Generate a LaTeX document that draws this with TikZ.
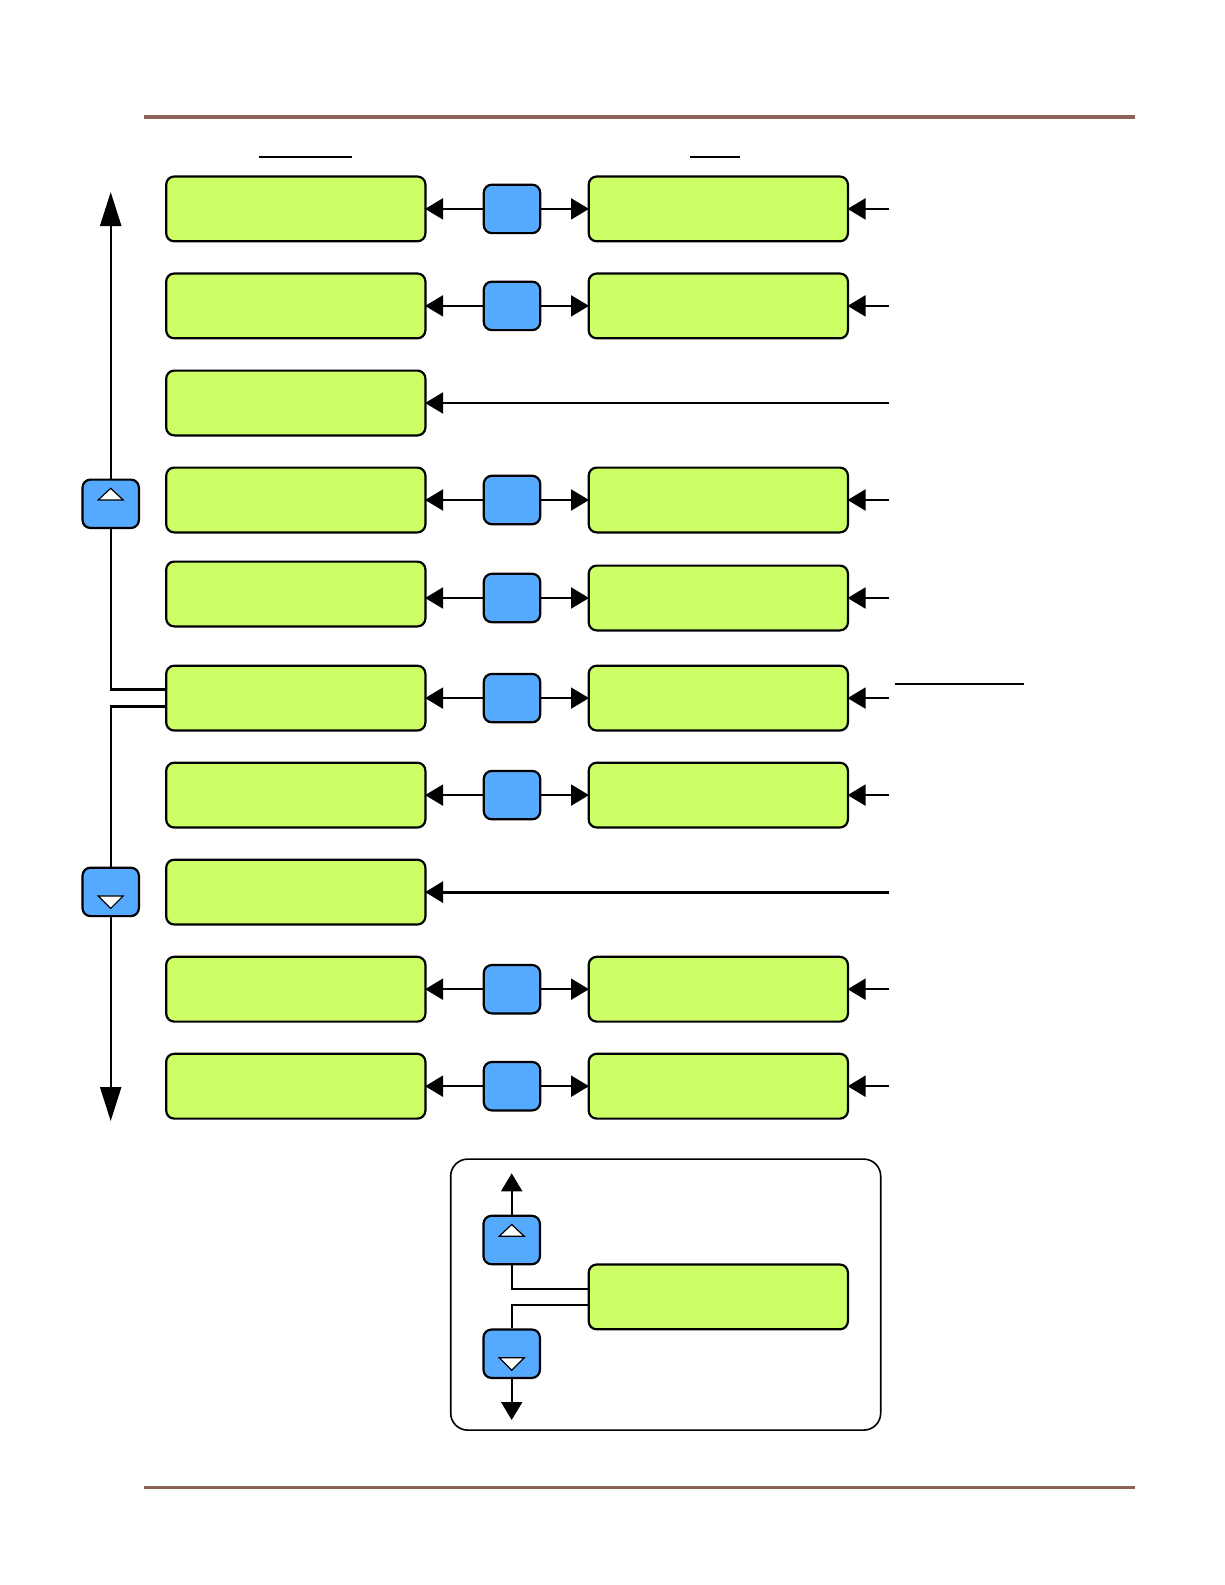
\documentclass[tikz,border=0pt]{standalone}
\usetikzlibrary{arrows.meta}
\definecolor{displaygruen}{HTML}{CCFF66}
\definecolor{tastenblau}{HTML}{55AAFF}
\definecolor{linienbraun}{HTML}{8B6457}
\tikzset{
  display/.style={draw,fill=displaygruen,line width=1.1pt,rounded corners=4pt,minimum width=129.6pt,minimum height=32.4pt,inner sep=0pt},
  taste/.style={draw,fill=tastenblau,line width=1.1pt,rounded corners=4pt,minimum width=28.2pt,minimum height=24.2pt,inner sep=0pt},
  dreieck/.style={draw,fill=white,line width=0.6pt,line join=miter},
  linie/.style={draw=linienbraun,line width=1.6pt},
  pfeil/.style={line width=1.1pt,shorten >=-0.7pt,-{Triangle[length=9pt,width=10.5pt]}},
  grosspfeil/.style={line width=1.1pt,-{Triangle[length=17pt,width=10.5pt]}},
  rahmen/.style={draw,line width=0.8pt,rounded corners=8.5pt,minimum width=215pt,minimum height=135.5pt,inner sep=0pt}
}
\begin{document}
\begin{tikzpicture}[x=0.5pt,y=-0.5pt]
\useasboundingbox (0,0) rectangle (1225,1585);
% name, y left box, y right box
\def\reihe#1#2#3{
  \node[display] at (295.8,#2) (l#1) {};
  \node[taste] at (512,#3) (t#1) {};
  \node[display] at (718.3,#3) (r#1) {};
  \coordinate (e#1) at (889.4,#3);
  \draw[pfeil] (t#1) -- (l#1.east |- t#1);
  \draw[pfeil] (t#1) -- (r#1);
  \draw[pfeil] (e#1) -- (r#1);
}
\def\hochtaste#1#2#3{
  \node[taste] at (#2,#3) (#1) {};
  \draw[dreieck,shift={(#2,#3)}] (-12.5,-3.8) -- (12.5,-3.8) -- (0,-15.5) -- cycle;
}
\def\runtertaste#1#2#3{
  \node[taste] at (#2,#3) (#1) {};
  \draw[dreieck,shift={(#2,#3)}] (-12.5,4) -- (12.5,4) -- (0,16.5) -- cycle;
}

% lines top and bottom
\draw[linie] (143.5,116.9) -- (1135,116.9);
\draw[linie] (143.5,1487.4) -- (1135,1487.4);

% underlines
\draw[line width=0.9pt] (258.7,156.7) -- (351.7,156.7);
\draw[line width=0.9pt] (690,156.7) -- (740,156.7);
\draw[line width=0.9pt] (894.5,684.2) -- (1024,684.2);

\reihe{1}{208.9}{208.9}
\reihe{2}{305.9}{305.9}
\reihe{4}{500}{500}
\reihe{5}{594}{598}
\reihe{6}{698.1}{698.1}
\reihe{7}{795.1}{795.1}
\reihe{9}{989.2}{989.2}
\reihe{10}{1086.2}{1086.2}

% rows without middle key
\node[display] at (295.8,403) (l3) {};
\coordinate (e3) at (889.4,403);
\draw[pfeil] (e3) -- (l3);
\node[display] at (295.8,892.1) (l8) {};
\coordinate (e8) at (889.4,892.1);
\draw[pfeil,line width=1.6pt] (e8) -- (l8);

% keys on the left
\hochtaste{hoch}{110.7}{503.8}
\runtertaste{runter}{110.7}{891.9}
\coordinate (oben) at (110.7,192);
\coordinate (unten) at (110.7,1121);
\coordinate (lh) at (166,689.5);
\coordinate (lr) at (166,706.5);
\draw[grosspfeil] (hoch) -- (oben);
\draw[grosspfeil] (runter) -- (unten);
\draw[line width=1.1pt] (hoch) |- (lh);
\draw[line width=1.1pt] (runter) |- (lr);

% legend
\node[rahmen] at (665.7,1294.6) (legende) {};
\hochtaste{lhoch}{511.7}{1240}
\runtertaste{lrunter}{511.7}{1353.7}
\node[display] at (718.3,1296.9) (ldisplay) {};
\coordinate (loben) at (511.7,1174.7);
\coordinate (lunten) at (511.7,1418.6);
\coordinate (dh) at (588.3,1288.6);
\coordinate (dr) at (588.3,1305.3);
\draw[pfeil] (lhoch) -- (loben);
\draw[pfeil] (lrunter) -- (lunten);
\draw[line width=1.1pt] (lhoch) |- (dh);
\draw[line width=1.1pt] (lrunter) |- (dr);
\end{tikzpicture}
\end{document}
